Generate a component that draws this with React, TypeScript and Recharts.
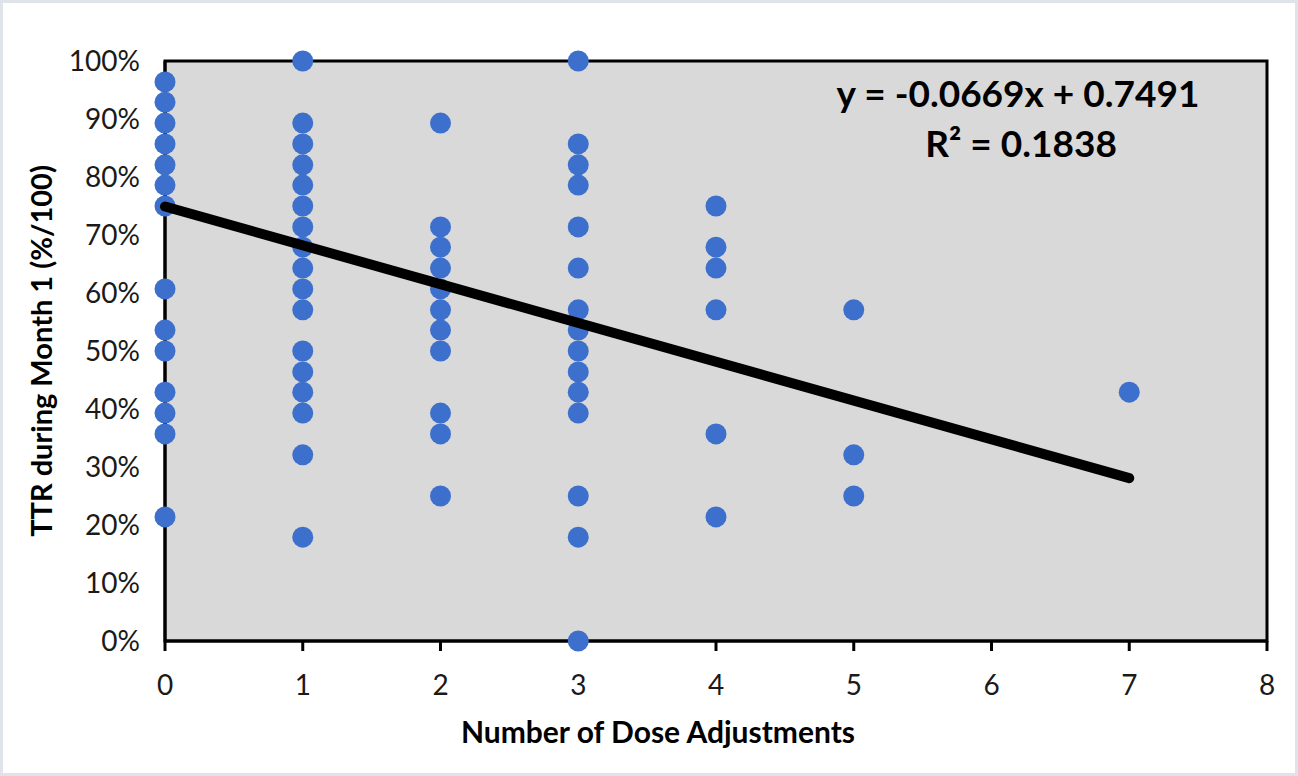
import { ScatterChart, Scatter, XAxis, YAxis, ReferenceArea, CartesianGrid } from "recharts"

// TTR during month 1, grouped by number of dose adjustments
const ttrAt0 = [0.964, 0.929, 0.893, 0.857, 0.821, 0.786, 0.75, 0.607, 0.536, 0.5, 0.429, 0.393, 0.357, 0.214]
const ttrAt1 = [1, 0.893, 0.857, 0.821, 0.786, 0.75, 0.714, 0.679, 0.643, 0.607, 0.571, 0.5, 0.464, 0.429, 0.393, 0.321, 0.179]
const ttrAt2 = [0.893, 0.714, 0.679, 0.643, 0.607, 0.571, 0.536, 0.5, 0.393, 0.357, 0.25]
const ttrAt3 = [1, 0.857, 0.821, 0.786, 0.714, 0.643, 0.571, 0.536, 0.5, 0.464, 0.429, 0.393, 0.25, 0.179, 0]
const ttrAt4 = [0.75, 0.679, 0.643, 0.571, 0.357, 0.214]
const ttrAt5 = [0.571, 0.321, 0.25]
const ttrAt7 = [0.429]

const groups: [number, number[]][] = [
  [0, ttrAt0],
  [1, ttrAt1],
  [2, ttrAt2],
  [3, ttrAt3],
  [4, ttrAt4],
  [5, ttrAt5],
  [7, ttrAt7],
]

// linear trendline as reported in the equation label
const slope = -0.0669
const intercept = 0.7491
const rSquared = 0.1838
const trendXs = [0, 7]

const xTicks = [0, 1, 2, 3, 4, 5, 6, 7, 8]
const yTicks = [0, 0.1, 0.2, 0.3, 0.4, 0.5, 0.6, 0.7, 0.8, 0.9, 1]

const points = groups.flatMap(([x, ys]) => ys.map((y) => ({ x, y })))
const trendPoints = trendXs.map((x) => ({ x, y: intercept + slope * x }))

const FONT = "Lato, 'Liberation Sans', sans-serif"
const DOT = "#3c70cc"

const Dot = (props: any) => <circle cx={props.cx} cy={props.cy} r={10.5} fill={DOT} />
const NoDot = () => <g />

export default function App() {
  return (
    <div
      style={{
        position: "absolute",
        left: 0,
        top: 0,
        width: 1298,
        height: 776,
        boxSizing: "border-box",
        border: "3px solid #dfe4ea",
        background: "#fff",
        fontFamily: FONT,
      }}
    >
      <ScatterChart width={1292} height={770} margin={{ top: 58, right: 28, bottom: 32, left: 62 }}>
        <CartesianGrid fill="#d9d9d9" fillOpacity={1} horizontal={false} vertical={false} />
        <ReferenceArea x1={0} x2={8} y1={0} y2={1} fill="none" stroke="#000" strokeWidth={3} />
        <XAxis
          type="number"
          dataKey="x"
          domain={[0, 8]}
          ticks={xTicks}
          height={100}
          axisLine={{ stroke: "#000", strokeWidth: 3 }}
          tickLine={{ stroke: "#000", strokeWidth: 3 }}
          tickSize={10}
          tickMargin={24}
          tick={{ fill: "#1a1a1a", fontSize: 28, fontFamily: FONT }}
          interval={0}
        />
        <YAxis
          type="number"
          dataKey="y"
          domain={[0, 1]}
          ticks={yTicks}
          width={100}
          axisLine={{ stroke: "#000", strokeWidth: 3 }}
          tickLine={false}
          tickSize={0}
          tickMargin={25}
          tickFormatter={(v: number) => `${Math.round(v * 100)}%`}
          tick={{ fill: "#1a1a1a", fontSize: 28, fontFamily: FONT }}
          interval={0}
        />
        <Scatter data={points} shape={Dot} isAnimationActive={false} />
        <Scatter
          data={trendPoints}
          shape={NoDot}
          line={{ stroke: "#000", strokeWidth: 10, strokeLinecap: "round" }}
          stroke="#000"
          strokeWidth={10}
          isAnimationActive={false}
        />
        <text
          x={37}
          y={348}
          transform="rotate(-90 37 348)"
          textAnchor="middle"
          dominantBaseline="central"
          fontSize={29}
          fontWeight={700}
          fontFamily={FONT}
          fill="#000"
        >
          TTR during Month 1 (%/100)
        </text>
        <text x={655} y={740} textAnchor="middle" fontSize={30} fontWeight={700} fontFamily={FONT} fill="#000">
          Number of Dose Adjustments
        </text>
        <text x={1015} y={104} textAnchor="middle" fontSize={37} fontWeight={700} fontFamily={FONT} fill="#000">
          {`y = ${slope}x + ${intercept}`}
        </text>
        <text x={1018} y={154} textAnchor="middle" fontSize={37} fontWeight={700} fontFamily={FONT} fill="#000">
          {`R² = ${rSquared}`}
        </text>
      </ScatterChart>
    </div>
  )
}
